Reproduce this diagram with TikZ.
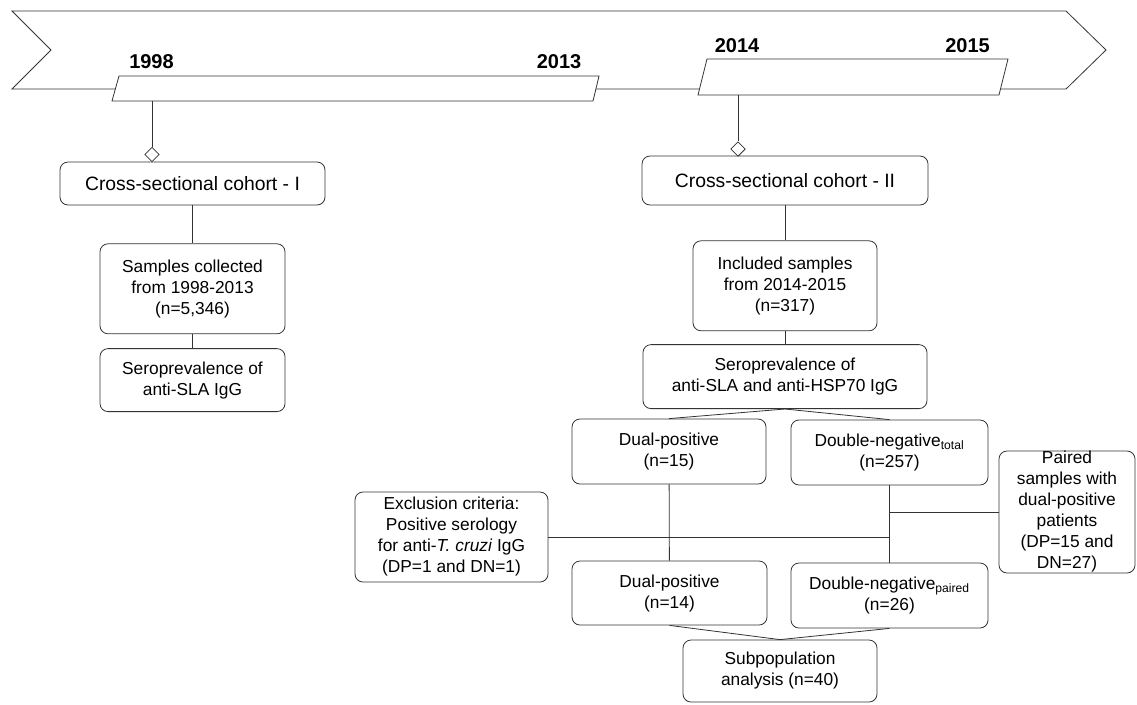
\documentclass[tikz,border=0pt]{standalone}
\usepackage{fontspec}
\setmainfont{Liberation Sans}
\usetikzlibrary{positioning,shapes.geometric}

\begin{document}
\begin{tikzpicture}[x=0.75pt, y=-0.75pt, line width=0.6pt]
        \tikzstyle{box}=[draw=black!80, rounded corners=6pt, align=center, inner sep=0pt, font=\fontsize{13}{15.75}\selectfont]
        \tikzstyle{cohort}=[box, font=\fontsize{14.5}{17}\selectfont]
        \tikzstyle{year}=[inner sep=0pt, font=\fontsize{15}{18}\selectfont\bfseries]
        \tikzstyle{period}=[draw=black!80, fill=white]
        \tikzstyle{link}=[draw=black!80]
        \tikzstyle{knob}=[diamond, draw=black!80, fill=white, inner sep=0pt, minimum width=11pt, minimum height=11pt]

        \useasboundingbox (0,0) rectangle (1137,704);

        \draw[link] (12,11) -- (1066,11) -- (1106,50) -- (1066,89) -- (12,89) -- (51,50) -- cycle;
        \draw[period] (119,76) -- (599,76) -- (593,101) -- (112,101) -- cycle;
        \draw[period] (707,59) -- (1008,59) -- (999,95) -- (698,95) -- cycle;

        \node[year] (y1998) at (151.5,62) {1998};
        \node[year] (y2013) at (559,62) {2013};
        \node[year] (y2014) at (737,46) {2014};
        \node[year] (y2015) at (967.5,46) {2015};

        \coordinate (t1) at (152,101);
        \coordinate (t2) at (738,95);
        \node[knob] (d1) at (152,154.5) {};
        \node[knob] (d2) at (738,149) {};

        \node[cohort, minimum width=198.75pt, minimum height=32.25pt] (c1) at (192.5,183.5) {Cross-sectional cohort - I};
        \node[box, minimum width=138.75pt, minimum height=67.5pt, below=28.5pt of c1] (s1) {Samples collected\\from 1998-2013\\(n=5,346)};
        \node[box, minimum width=138.75pt, minimum height=47.25pt, below=10.5pt of s1] (p1) {Seroprevalence of\\anti-SLA IgG};

        \node[cohort, minimum width=214.5pt, minimum height=36.75pt] (c2) at (785,180.5) {Cross-sectional cohort - II};
        \node[box, minimum width=138pt, minimum height=67.5pt, below=26.25pt of c2] (s2) {Included samples\\from 2014-2015\\(n=317)};
        \node[box, minimum width=213pt, minimum height=48pt, below=9.75pt of s2] (p2) {Seroprevalence of\\anti-SLA and anti-HSP70 IgG};

        \node[box, minimum width=145.5pt, minimum height=48.75pt] (dp1) at (669,451.5) {Dual-positive\\(n=15)};
        \node[box, minimum width=147.75pt, minimum height=48.75pt] (dnt) at (889.5,452.5) {Double-negative\textsubscript{total}\\(n=257)};
        \node[box, minimum width=144.75pt, minimum height=67.5pt] (ex) at (451.5,537) {Exclusion criteria:\\Positive serology\\for anti-\textit{T. cruzi} IgG\\(DP=1 and DN=1)};
        \node[box, minimum width=102pt, minimum height=91.5pt] (pr) at (1067,512) {Paired\\samples with\\dual-positive\\patients\\(DP=15 and\\DN=27)};
        \node[box, minimum width=146.25pt, minimum height=48pt] (dp2) at (669.5,593) {Dual-positive\\(n=14)};
        \node[box, minimum width=147.75pt, minimum height=48.75pt] (dnp) at (889.5,595.5) {Double-negative\textsubscript{paired}\\(n=26)};
        \node[box, minimum width=145.5pt, minimum height=46.5pt] (sub) at (780,671) {Subpopulation\\analysis (n=40)};

        \draw[link] (t1) -- (d1);
        \draw[link] (t2) -- (d2);
        \draw[link] (c1) -- (s1);
        \draw[link] (s1) -- (p1);
        \draw[link] (c2) -- (s2);
        \draw[link] (s2) -- (p2);
        \draw[link] (p2.south) -- (dp1.north);
        \draw[link] (p2.south) -- (dnt.north);
        \draw[link] (dp1) -- (dp2);
        \draw[link] (dnt) -- (dnp);
        \draw[link] (ex.east) -- (ex.east -| dnt.south);
        \draw[link] (pr.west) -- (pr.west -| dnt.south);
        \draw[link] (dp2.south) -- (sub.north);
        \draw[link] (dnp.south) -- (sub.north);

    \end{tikzpicture}
\end{document}
